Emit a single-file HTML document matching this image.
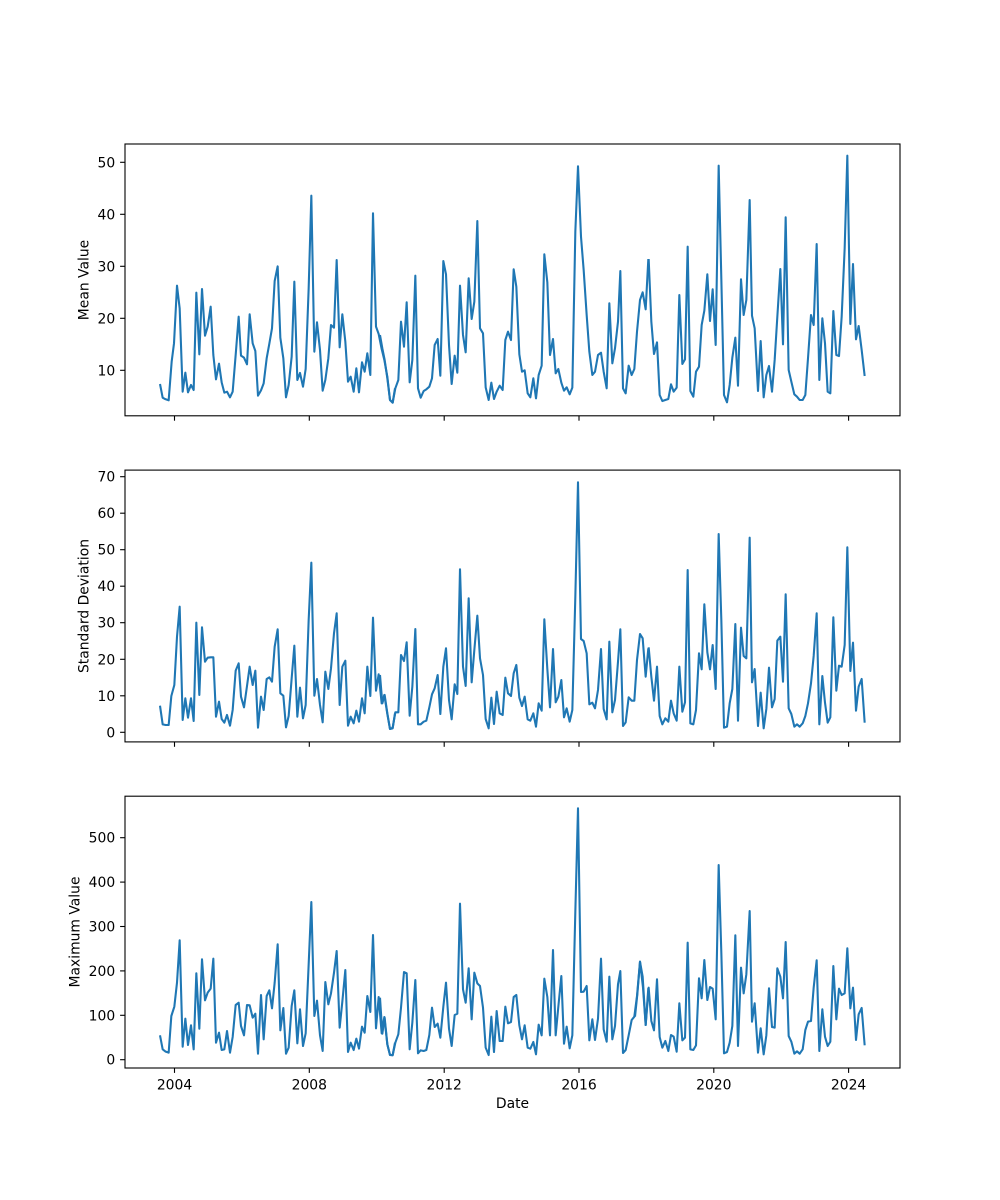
<!DOCTYPE html>
<html>
<head>
<meta charset="utf-8">
<style>
  html, body { margin: 0; padding: 0; background: #ffffff; }
  svg { display: block; }
  text { font-family: "DejaVu Sans", "Liberation Sans", sans-serif; fill: #000; }
</style>
</head>
<body>
<svg width="1000" height="1200" viewBox="0 0 1000 1200" xmlns="http://www.w3.org/2000/svg">
  <rect x="0" y="0" width="1000" height="1200" fill="#ffffff"/>

  <!-- ===== Panel 1: Mean Value ===== -->
  <g fill="none" stroke="#1f77b4" stroke-width="6.25" stroke-linejoin="round" stroke-linecap="butt">
    <polyline transform="translate(125 145) scale(0.333333)" points="105,717 113,758 120,762 131,766 140,650 147,595 156,422 164,490 173,740 181,683 189,742 198,720 206,735 214,443 223,628 231,432 240,572 248,545 257,485 265,630 273,703 282,656 290,712 298,743 306,740 315,757 323,740 332,630 341,515 348,632 357,638 366,658 374,508 383,595 391,618 399,752 408,736 416,715 425,640 433,596 441,550 449,408 458,364 466,578 475,640 483,757 491,720 500,635 508,410 517,705 525,684 534,725 542,672 551,430 559,152 568,620 576,532 585,615 593,737 601,705 610,640 618,540 627,548 635,345 644,607 652,508 661,590 669,710 677,695 686,740 694,670 702,742 711,652 719,680 727,625 736,690 744,205 753,545 761,567 770,612 778,645 787,695 795,765 803,773 810,730"/>
    <polyline transform="translate(380 145) scale(0.333333)" points="0,570 7,610 14,645 22,700 30,765 38,773 46,730 55,705 63,530 72,605 80,472 89,712 97,645 106,392 114,730 122,758 131,738 139,733 148,725 156,700 164,600 173,582 181,692 190,348 198,388 207,600 215,717 224,632 232,683 240,422 249,570 257,622 266,400 275,522 283,470 292,228 300,550 309,565 317,727 326,765 334,713 342,762 350,740 359,722 368,735 376,585 384,560 393,585 401,373 409,425 418,628 426,680 434,676 443,745 451,757 460,700 468,760 476,690 485,662 493,328 502,412 510,630 519,582 527,685 535,672 544,713 552,737 560,727 569,748 577,728 586,260 594,64 603,275 611,375 620,510 628,620 637,690 645,680 654,630 663,623 671,680 680,730 688,475 697,655 705,610 714,530 721,378 729,730 737,745 746,662 755,690 763,672 771,560 780,465 788,442 797,493 805,342"/>
    <polyline transform="translate(635 145) scale(0.333333)" points="41,342 49,530 57,627 66,592 74,750 82,768 91,765 100,762 108,718 116,740 125,728 133,450 142,657 150,643 158,305 166,738 175,755 183,680 192,665 200,540 208,497 217,388 225,528 233,433 242,600 251,62 259,402 267,750 276,772 284,720 292,638 301,578 309,722 318,403 326,510 334,465 344,165 351,512 359,550 369,738 377,588 386,757 394,690 402,663 411,740 419,645 427,515 436,372 444,598 452,217 461,675 469,710 478,748 486,755 494,765 503,765 511,750 519,640 528,510 536,540 545,297 553,705 562,520 570,595 578,740 586,745 595,498 604,630 612,633 620,515 629,310 637,32 646,537 654,357 663,583 671,543 680,615 689,693"/>
  </g>
  <rect x="125" y="144" width="775" height="271.8" fill="none" stroke="#000" stroke-width="1.1"/>
  <g stroke="#000" stroke-width="1.1">
    <line x1="120.1" y1="370.3" x2="125" y2="370.3"/>
    <line x1="120.1" y1="318.3" x2="125" y2="318.3"/>
    <line x1="120.1" y1="266.3" x2="125" y2="266.3"/>
    <line x1="120.1" y1="214.3" x2="125" y2="214.3"/>
    <line x1="120.1" y1="162.3" x2="125" y2="162.3"/>
    <line x1="174.5" y1="415.8" x2="174.5" y2="420.7"/>
    <line x1="309.3" y1="415.8" x2="309.3" y2="420.7"/>
    <line x1="444.2" y1="415.8" x2="444.2" y2="420.7"/>
    <line x1="579" y1="415.8" x2="579" y2="420.7"/>
    <line x1="713.8" y1="415.8" x2="713.8" y2="420.7"/>
    <line x1="848.6" y1="415.8" x2="848.6" y2="420.7"/>
  </g>
  <g font-size="13.9" text-anchor="end">
    <text x="115.2" y="375.3">10</text>
    <text x="115.2" y="323.3">20</text>
    <text x="115.2" y="271.3">30</text>
    <text x="115.2" y="219.3">40</text>
    <text x="115.2" y="167.3">50</text>
  </g>
  <text font-size="13.9" text-anchor="middle" transform="translate(88.5 280) rotate(-90)">Mean Value</text>

  <!-- ===== Panel 2: Standard Deviation ===== -->
  <g fill="none" stroke="#1f77b4" stroke-width="6.25" stroke-linejoin="round" stroke-linecap="butt">
    <polyline transform="translate(125 470) scale(0.333333)" points="105,707 113,763 122,765 131,765 139,678 148,645 156,500 164,410 173,750 181,685 189,743 198,685 206,753 214,458 223,675 231,472 240,575 248,563 257,562 265,562 273,740 282,695 290,747 298,758 306,735 315,767 323,720 332,602 341,580 348,680 357,712 366,648 374,590 383,645 391,602 399,773 408,680 416,720 425,627 433,622 441,635 449,530 458,478 466,670 475,677 483,772 491,738 500,625 508,527 517,740 525,653 534,745 542,705 551,450 559,278 568,677 576,627 585,705 593,757 601,605 610,657 618,595 627,490 635,430 644,705 652,590 661,572 669,767 677,740 686,760 694,722 702,755 711,685 719,730 727,590 736,678 744,443 753,662 761,613 770,700 778,675 787,732 795,777 803,775 810,730"/>
    <polyline transform="translate(380 470) scale(0.333333)" points="0,615 7,700 14,675 22,730 30,777 38,773 46,727 55,727 63,555 72,573 80,517 89,737 97,650 106,477 114,763 122,763 131,755 139,752 148,712 156,673 164,655 173,615 181,732 190,590 198,535 207,690 215,748 224,643 232,672 240,298 249,590 257,648 266,385 275,637 283,540 292,437 300,565 309,615 317,747 326,775 334,683 342,762 350,665 359,730 368,735 376,623 384,670 393,678 401,610 409,585 418,683 426,708 434,680 443,748 451,752 460,730 468,770 476,700 485,722 493,448 502,597 510,712 519,537 527,697 535,680 544,630 552,742 560,715 569,755 577,720 586,380 594,37 603,507 611,513 620,550 628,703 637,698 645,715 654,660 663,537 671,717 680,748 688,515 697,727 705,690 714,575 721,478 729,768 737,757 746,682 755,692 763,692 771,570 780,492 788,505 797,620 805,535"/>
    <polyline transform="translate(635 470) scale(0.333333)" points="41,532 49,620 57,692 66,590 74,738 82,763 91,745 100,755 108,692 116,730 125,752 133,590 142,725 150,697 158,300 166,760 175,763 183,720 192,550 200,598 208,403 217,547 225,598 233,525 242,657 251,192 259,450 267,773 276,770 284,700 292,657 301,462 309,752 318,473 326,558 334,565 344,203 351,637 359,597 369,768 377,668 386,775 394,717 402,593 411,712 419,687 427,512 436,500 444,635 452,373 461,715 469,732 478,770 486,763 494,770 503,760 511,738 519,700 528,640 536,558 545,430 553,763 562,618 570,698 578,758 586,742 595,442 604,662 612,587 620,590 629,525 637,232 646,603 654,518 663,722 671,650 680,627 689,758"/>
  </g>
  <rect x="125" y="470.1" width="775" height="271.8" fill="none" stroke="#000" stroke-width="1.1"/>
  <g stroke="#000" stroke-width="1.1">
    <line x1="120.1" y1="732.3" x2="125" y2="732.3"/>
    <line x1="120.1" y1="695.8" x2="125" y2="695.8"/>
    <line x1="120.1" y1="659.3" x2="125" y2="659.3"/>
    <line x1="120.1" y1="622.7" x2="125" y2="622.7"/>
    <line x1="120.1" y1="586.2" x2="125" y2="586.2"/>
    <line x1="120.1" y1="549.7" x2="125" y2="549.7"/>
    <line x1="120.1" y1="513.2" x2="125" y2="513.2"/>
    <line x1="120.1" y1="476.7" x2="125" y2="476.7"/>
    <line x1="174.5" y1="741.9" x2="174.5" y2="746.8"/>
    <line x1="309.3" y1="741.9" x2="309.3" y2="746.8"/>
    <line x1="444.2" y1="741.9" x2="444.2" y2="746.8"/>
    <line x1="579" y1="741.9" x2="579" y2="746.8"/>
    <line x1="713.8" y1="741.9" x2="713.8" y2="746.8"/>
    <line x1="848.6" y1="741.9" x2="848.6" y2="746.8"/>
  </g>
  <g font-size="13.9" text-anchor="end">
    <text x="115.2" y="737.3">0</text>
    <text x="115.2" y="700.8">10</text>
    <text x="115.2" y="664.3">20</text>
    <text x="115.2" y="627.7">30</text>
    <text x="115.2" y="591.2">40</text>
    <text x="115.2" y="554.7">50</text>
    <text x="115.2" y="518.2">60</text>
    <text x="115.2" y="481.7">70</text>
  </g>
  <text font-size="13.9" text-anchor="middle" transform="translate(88.5 606) rotate(-90)">Standard Deviation</text>

  <!-- ===== Panel 3: Maximum Value ===== -->
  <g fill="none" stroke="#1f77b4" stroke-width="6.25" stroke-linejoin="round" stroke-linecap="butt">
    <polyline transform="translate(125 796) scale(0.333333)" points="105,718 113,760 122,767 131,770 139,660 148,632 156,560 164,433 173,752 181,668 189,747 198,688 206,760 214,532 223,698 231,490 240,613 248,590 257,578 265,488 273,740 282,710 290,762 298,760 306,705 315,770 323,723 332,627 341,620 348,690 357,718 366,627 374,628 383,665 391,653 399,773 408,597 416,730 425,600 433,583 441,637 449,560 458,445 466,703 475,636 483,773 491,755 500,630 508,583 517,742 525,640 534,750 542,712 551,505 559,318 568,660 576,614 585,718 593,765 601,558 610,625 618,592 627,530 635,465 644,695 652,617 661,522 669,768 677,740 686,762 694,728 702,758 711,692 719,710 727,600 736,648 744,417 753,697 761,603 770,712 778,663 787,745 795,777 803,777 810,740"/>
    <polyline transform="translate(380 796) scale(0.333333)" points="0,605 7,713 14,665 22,745 30,777 38,778 46,740 55,715 63,635 72,528 80,532 89,760 97,680 106,552 114,772 122,763 131,765 139,762 148,717 156,635 164,693 173,683 181,725 190,632 198,560 207,698 215,750 224,657 232,653 240,323 249,580 257,620 266,517 275,670 283,530 292,562 300,570 309,635 317,755 326,777 334,662 342,768 350,645 359,735 368,735 376,632 384,682 393,678 401,603 409,597 418,688 426,730 434,688 443,755 451,758 460,738 468,775 476,686 485,718 493,548 502,603 510,718 519,462 527,718 535,632 544,540 552,743 560,692 569,757 577,718 586,347 594,37 603,588 611,587 620,570 628,733 637,670 645,732 654,668 663,488 671,700 680,737 688,542 697,730 705,690 714,565 721,525 729,771 737,762 746,718 755,672 763,662 771,600 780,497 788,542 797,687 805,576"/>
    <polyline transform="translate(635 796) scale(0.333333)" points="0,662 7,595 15,497 24,575 32,687 41,575 49,675 57,703 66,550 74,723 82,755 91,735 100,765 108,717 116,722 125,767 133,622 142,733 150,725 158,440 166,760 175,762 183,748 192,547 200,607 208,492 217,612 225,573 233,578 242,670 251,207 259,470 267,772 276,768 284,740 292,690 301,418 309,750 318,515 326,592 334,535 344,345 351,677 359,622 369,770 377,697 386,775 394,718 402,577 411,693 419,695 427,517 436,542 444,607 452,438 461,720 469,737 478,773 486,766 494,773 503,760 511,702 519,677 528,675 536,575 545,493 553,765 562,640 570,722 578,750 586,737 595,510 604,670 612,578 620,597 629,592 637,457 646,637 654,575 663,732 671,655 680,636 689,748"/>
  </g>
  <rect x="125" y="796.2" width="775" height="271.8" fill="none" stroke="#000" stroke-width="1.1"/>
  <g stroke="#000" stroke-width="1.1">
    <line x1="120.1" y1="1059.7" x2="125" y2="1059.7"/>
    <line x1="120.1" y1="1015.3" x2="125" y2="1015.3"/>
    <line x1="120.1" y1="970.9" x2="125" y2="970.9"/>
    <line x1="120.1" y1="926.5" x2="125" y2="926.5"/>
    <line x1="120.1" y1="882.1" x2="125" y2="882.1"/>
    <line x1="120.1" y1="837.7" x2="125" y2="837.7"/>
    <line x1="174.5" y1="1068" x2="174.5" y2="1072.9"/>
    <line x1="309.3" y1="1068" x2="309.3" y2="1072.9"/>
    <line x1="444.2" y1="1068" x2="444.2" y2="1072.9"/>
    <line x1="579" y1="1068" x2="579" y2="1072.9"/>
    <line x1="713.8" y1="1068" x2="713.8" y2="1072.9"/>
    <line x1="848.6" y1="1068" x2="848.6" y2="1072.9"/>
  </g>
  <g font-size="13.9" text-anchor="end">
    <text x="115.2" y="1064.7">0</text>
    <text x="115.2" y="1020.3">100</text>
    <text x="115.2" y="975.9">200</text>
    <text x="115.2" y="931.5">300</text>
    <text x="115.2" y="887.1">400</text>
    <text x="115.2" y="842.7">500</text>
  </g>
  <text font-size="13.9" text-anchor="middle" transform="translate(79.5 932) rotate(-90)">Maximum Value</text>
  <g font-size="13.9" text-anchor="middle">
    <text x="174.5" y="1089.5">2004</text>
    <text x="309.3" y="1089.5">2008</text>
    <text x="444.2" y="1089.5">2012</text>
    <text x="579" y="1089.5">2016</text>
    <text x="713.8" y="1089.5">2020</text>
    <text x="848.6" y="1089.5">2024</text>
  </g>
  <text font-size="13.9" text-anchor="middle" x="512.5" y="1108">Date</text>
</svg>
</body>
</html>
